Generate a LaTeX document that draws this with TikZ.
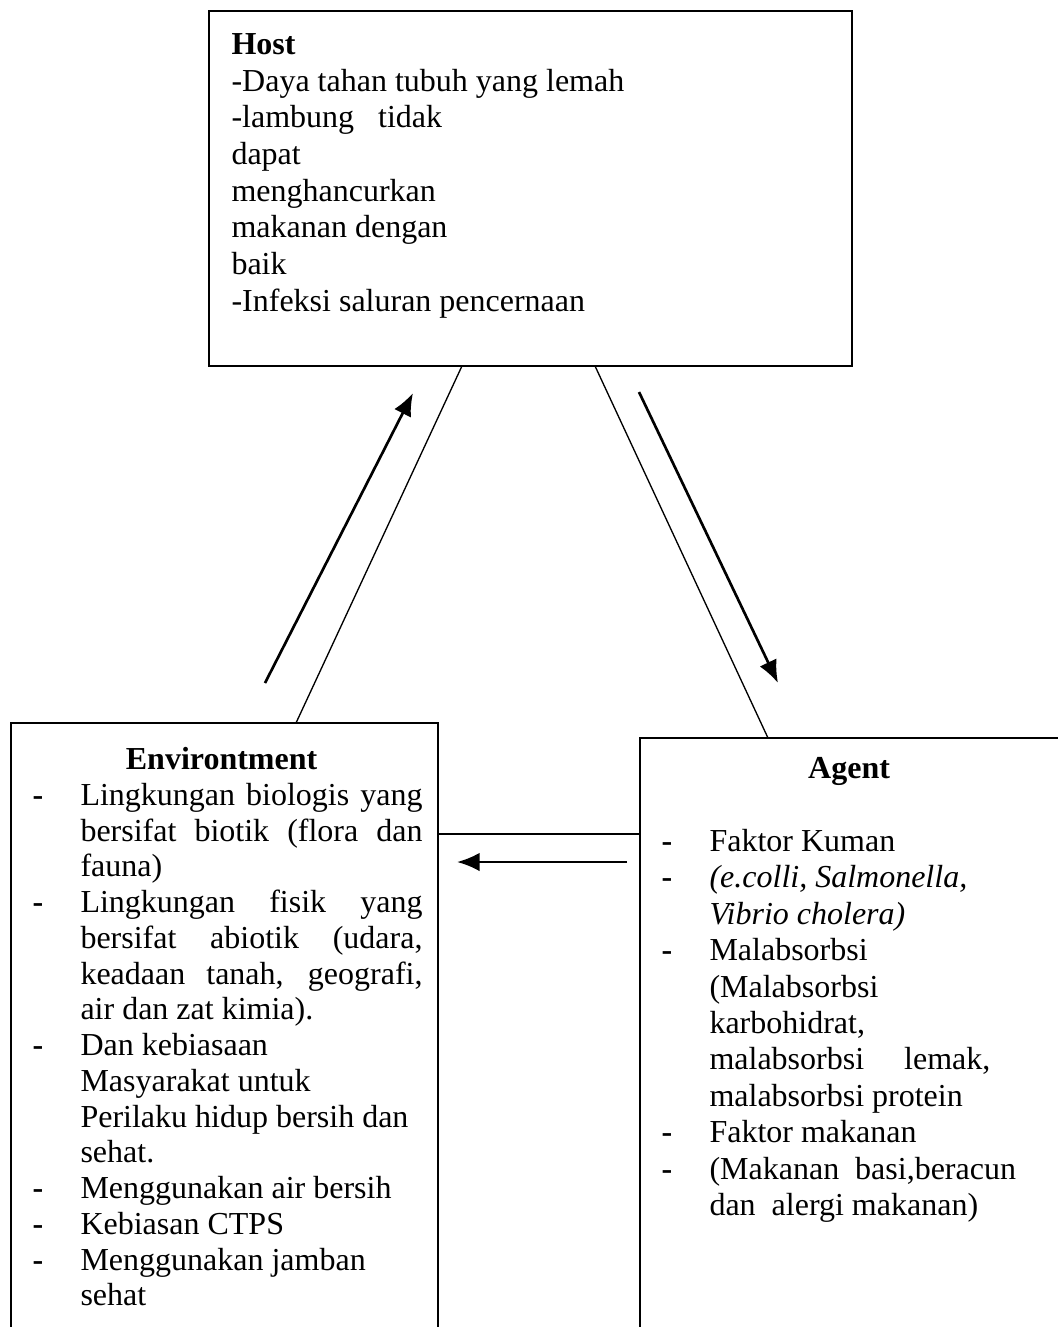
\documentclass[tikz,border=0pt]{standalone}
\usepackage{fontspec}
\setmainfont{Liberation Serif}
\usetikzlibrary{calc,arrows.meta}

\newcommand{\tiret}{\makebox[18pt][l]{\textbf{-}}}
\newcommand{\sanstiret}{\hspace*{18pt}}
\newcommand{\ligneenv}[1]{\hbox to 128.25pt{#1}}

\begin{document}
\begin{tikzpicture}[x=0.375pt,y=0.375pt,
    boite/.style={draw,line width=0.75pt,inner sep=0pt,outer sep=0pt,anchor=north west},
    texte/.style={inner sep=0pt,anchor=north west,align=left},
    lien/.style={line width=0.5pt},
    fleche/.style={line width=1pt,-{Latex[length=8.5pt,width=7pt]}}]

    % Cadre de l'image
    \useasboundingbox (0,0) rectangle (1058,-1327);
    \clip (0,0) rectangle (1058,-1327);

    % Les trois boites
    \node[boite,minimum width=241.1pt,minimum height=133.1pt] (host) at (209,-11) {};
    \node[boite,minimum width=160pt,minimum height=262pt] (env) at (11,-723) {};
    \node[boite,minimum width=163pt,minimum height=245pt] (agent) at (640,-738) {};

    % Texte de Host
    \node[texte,font=\fontsize{12}{13.76}\selectfont] (hosttxt) at (231,-33) {%
        \textbf{Host}\\
        -Daya tahan tubuh yang lemah\\
        -lambung\hspace{6pt} tidak\\
        dapat\\
        menghancurkan\\
        makanan dengan\\
        baik\\
        -Infeksi saluran pencernaan};

    % Texte de Environtment
    \node[texte,font=\fontsize{12}{13.4}\selectfont] (envtxt) at (32,-747) {%
        \hspace*{35pt}\textbf{Environtment}\\
        \tiret\ligneenv{Lingkungan biologis yang}\\
        \sanstiret\ligneenv{bersifat biotik (flora dan}\\
        \sanstiret fauna)\\
        \tiret\ligneenv{Lingkungan fisik yang}\\
        \sanstiret\ligneenv{bersifat abiotik (udara,}\\
        \sanstiret\ligneenv{keadaan tanah, geografi,}\\
        \sanstiret air dan zat kimia).\\
        \tiret Dan kebiasaan\\
        \sanstiret Masyarakat untuk\\
        \sanstiret Perilaku hidup bersih dan\\
        \sanstiret sehat.\\
        \tiret Menggunakan air bersih\\
        \tiret Kebiasan CTPS\\
        \tiret Menggunakan jamban\\
        \sanstiret sehat};

    % Texte de Agent
    \node[texte,font=\fontsize{12}{13.65}\selectfont] (agenttxt) at (661,-757) {%
        \hspace*{55pt}\textbf{Agent}\\
        \mbox{}\\
        \tiret Faktor Kuman\\
        \tiret\textit{(e.colli, Salmonella,}\\
        \sanstiret\textit{Vibrio cholera)}\\
        \tiret Malabsorbsi\\
        \sanstiret (Malabsorbsi\\
        \sanstiret karbohidrat,\\
        \sanstiret malabsorbsi\hspace{12pt} lemak,\\
        \sanstiret malabsorbsi protein\\
        \tiret Faktor makanan\\
        \tiret (Makanan\hspace{3pt} basi,beracun\\
        \sanstiret dan\hspace{3pt} alergi makanan)};

    % Liens entre les boites
    \draw[lien] ($(host.south west)+(253,0)$) -- ($(env.north west)+(285,0)$);
    \draw[lien] ($(host.south west)+(386,0)$) -- ($(agent.north west)+(128,0)$);
    \draw[lien] ($(env.north east)+(0,-111)$) -- ($(agent.north west)+(0,-96)$);

    % Fleches
    \coordinate (envbas) at (265,-683);
    \coordinate (hostgauche) at (413,-393);
    \coordinate (hostdroite) at (639,-392);
    \coordinate (agenthaut) at (778,-683);
    \coordinate (agentgauche) at (627,-862);
    \coordinate (envdroite) at (457,-862);
    \draw[fleche] (envbas) -- (hostgauche);
    \draw[fleche] (hostdroite) -- (agenthaut);
    \draw[fleche] (agentgauche) -- (envdroite);

\end{tikzpicture}
\end{document}
